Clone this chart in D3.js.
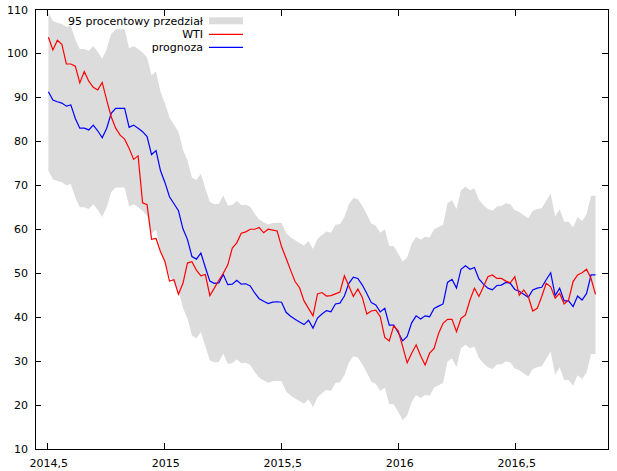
<!DOCTYPE html>
<html>
<head>
<meta charset="utf-8">
<script src="https://cdn.jsdelivr.net/npm/d3@7"></script>
<style>
  body { margin: 0; background: #fff; }
  text { font-family: "DejaVu Sans", Verdana, sans-serif; font-size: 11px; fill: #000; }
</style>
</head>
<body>
<script>
// weekly series, first week at mid 2014
var startYear = 2014.503;
var weekStep = 7 / 365.25;

var wti = [
  103.7, 100.8, 103.0, 102.1, 97.6, 97.6, 97.1, 93.3, 95.9, 93.7,
  92.3, 91.7, 93.4, 89.4, 85.6, 83.0, 81.4, 80.5, 78.4, 75.9,
  76.7, 66.0, 65.6, 57.7, 57.9, 54.9, 52.6, 48.2, 48.5, 45.2,
  47.7, 52.3, 52.6, 50.7, 49.4, 49.7, 44.9, 46.6, 48.4, 50.0,
  51.9, 55.7, 56.9, 59.1, 59.4, 60.0, 60.0, 60.4, 59.2, 60.0,
  59.8, 59.6, 56.0, 53.4, 50.7, 48.1, 46.7, 43.7, 42.0, 40.3,
  45.3, 45.6, 44.8, 44.9, 45.3, 45.7, 49.4, 47.1, 44.7, 46.4,
  44.5, 40.7, 41.4, 41.6, 40.1, 35.4, 34.6, 38.0, 36.9, 33.3,
  29.6, 31.8, 33.7, 31.2, 29.1, 31.8, 32.9, 36.3, 38.6, 39.5,
  39.5, 36.7, 39.7, 40.5, 43.9, 46.6, 44.7, 46.9, 49.2, 49.6,
  48.8, 48.8, 48.2, 47.8, 49.2, 45.0, 46.2, 44.7, 41.4, 42.0,
  44.7, 47.7, 46.9, 44.3, 45.4, 43.0, 43.9, 48.1, 49.6, 50.1,
  50.9, 48.8, 45.2
];

var prognoza = [
  91.3, 89.4, 89.0, 88.7, 88.0, 88.3, 85.2, 83.0, 83.0, 82.6,
  83.7, 82.4, 80.8, 83.0, 86.4, 87.5, 87.5, 87.5, 83.2, 83.7,
  83.0, 82.2, 81.1, 77.0, 77.9, 73.3, 70.6, 67.4, 65.8, 64.2,
  60.1, 57.7, 53.8, 53.2, 54.6, 51.3, 48.2, 47.7, 47.8, 49.7,
  47.4, 47.5, 48.4, 47.5, 47.6, 47.1, 45.5, 44.2, 43.6, 43.1,
  43.4, 43.5, 43.4, 41.1, 40.2, 39.5, 38.9, 38.3, 39.3, 37.5,
  39.8, 40.7, 41.5, 41.2, 43.0, 43.2, 44.8, 47.7, 49.1, 48.8,
  47.3, 45.4, 43.3, 42.8, 41.2, 42.0, 38.2, 38.2, 36.5, 34.6,
  35.6, 38.7, 40.3, 39.6, 40.3, 40.1, 42.0, 42.5, 43.0, 47.9,
  48.6, 46.6, 50.9, 51.7, 50.9, 51.3, 48.7, 47.5, 46.6, 46.2,
  47.2, 47.3, 47.9, 47.7, 46.3, 45.9, 45.2, 44.5, 46.2, 46.6,
  46.8, 48.5, 50.1, 44.9, 46.6, 43.7, 43.7, 42.4, 44.8, 43.9,
  45.4, 49.6, 49.6
];

var upper95 = [
  109.3, 107.4, 107.0, 106.7, 106.0, 106.3, 103.2, 101.0, 101.0, 100.6,
  101.7, 100.4, 98.8, 101.0, 104.4, 105.5, 105.5, 105.5, 101.2, 101.7,
  101.0, 100.2, 99.1, 95.0, 95.9, 91.3, 88.6, 85.4, 83.8, 82.2,
  78.1, 75.7, 71.8, 71.2, 72.6, 69.3, 66.2, 65.7, 65.8, 67.7,
  65.4, 65.5, 66.4, 65.5, 65.6, 65.1, 63.5, 62.2, 61.6, 61.1,
  61.4, 61.5, 61.4, 59.1, 58.2, 57.5, 56.9, 56.3, 57.3, 55.5,
  57.8, 58.7, 59.5, 59.2, 61.0, 61.2, 62.8, 65.7, 67.1, 66.8,
  65.3, 63.4, 61.3, 60.8, 59.2, 60.0, 56.2, 56.2, 54.5, 52.6,
  53.6, 56.7, 58.3, 57.6, 58.3, 58.1, 60.0, 60.5, 61.0, 65.9,
  66.6, 64.6, 68.9, 69.7, 68.9, 69.3, 66.7, 65.5, 64.6, 64.2,
  65.2, 65.3, 65.9, 65.7, 64.3, 63.9, 63.2, 62.5, 64.2, 64.6,
  64.8, 66.5, 68.1, 62.9, 64.6, 61.7, 61.7, 60.4, 62.8, 61.9,
  63.4, 67.6, 67.6
];

var lower95 = [
  73.3, 71.4, 71.0, 70.7, 70.0, 70.3, 67.2, 65.0, 65.0, 64.6,
  65.7, 64.4, 62.8, 65.0, 68.4, 69.5, 69.5, 69.5, 65.2, 65.7,
  65.0, 64.2, 63.1, 59.0, 59.9, 55.3, 52.6, 49.4, 47.8, 46.2,
  42.1, 39.7, 35.8, 35.2, 36.6, 33.3, 30.2, 29.7, 29.8, 31.7,
  29.4, 29.5, 30.4, 29.5, 29.6, 29.1, 27.5, 26.2, 25.6, 25.1,
  25.4, 25.5, 25.4, 23.1, 22.2, 21.5, 20.9, 20.3, 21.3, 19.5,
  21.8, 22.7, 23.5, 23.2, 25.0, 25.2, 26.8, 29.7, 31.1, 30.8,
  29.3, 27.4, 25.3, 24.8, 23.2, 24.0, 20.2, 20.2, 18.5, 16.6,
  17.6, 20.7, 22.3, 21.6, 22.3, 22.1, 24.0, 24.5, 25.0, 29.9,
  30.6, 28.6, 32.9, 33.7, 32.9, 33.3, 30.7, 29.5, 28.6, 28.2,
  29.2, 29.3, 29.9, 29.7, 28.3, 27.9, 27.2, 26.5, 28.2, 28.6,
  28.8, 30.5, 32.1, 26.9, 28.6, 25.7, 25.7, 24.4, 26.8, 25.9,
  27.4, 31.6, 31.6
];

var xTicks = [2014.5, 2015, 2015.5, 2016, 2016.5];
var yTicks = [10, 20, 30, 40, 50, 60, 70, 80, 90, 100, 110];
var legendLabels = ['95 procentowy przedział', 'WTI', 'prognoza'];

var drawChart = function() {
  let width = 617, height = 471;
  let left = 35, right = 608, top = 9.5, bottom = 449;
  let tickLen = 6;

  let svg = d3.select('body')
    .append('svg')
    .attr('width', width)
    .attr('height', height);

  let x = d3.scaleLinear().domain([2014.4457, 2016.8944]).range([left, right]);
  let y = d3.scaleLinear().domain([10, 110]).range([bottom, top]);

  let rows = wti.map((d, i) => ({
    t: startYear + i * weekStep,
    wti: d,
    f: prognoza[i],
    hi: upper95[i],
    lo: lower95[i]
  }));

  // confidence band
  svg.append('path')
    .datum(rows)
    .attr('fill', '#dcdcdc')
    .attr('d', d3.area()
      .x(d => x(d.t))
      .y0(d => y(d.lo))
      .y1(d => y(d.hi)));

  let line = key => d3.line().x(d => x(d.t)).y(d => y(d[key]));

  svg.append('path')
    .datum(rows)
    .attr('fill', 'none')
    .attr('stroke', '#0000ff')
    .attr('stroke-width', 1.2)
    .attr('d', line('f'));

  svg.append('path')
    .datum(rows)
    .attr('fill', 'none')
    .attr('stroke', '#ff0000')
    .attr('stroke-width', 1.2)
    .attr('d', line('wti'));

  // frame + inward ticks on all four sides
  let frame = svg.append('g').attr('stroke', '#000').attr('stroke-width', 1).attr('shape-rendering', 'crispEdges');
  frame.append('rect')
    .attr('x', left).attr('y', top)
    .attr('width', right - left).attr('height', bottom - top)
    .attr('fill', 'none');

  xTicks.forEach(t => {
    frame.append('line').attr('x1', x(t)).attr('x2', x(t)).attr('y1', bottom).attr('y2', bottom - tickLen);
    frame.append('line').attr('x1', x(t)).attr('x2', x(t)).attr('y1', top).attr('y2', top + tickLen);
  });
  yTicks.forEach(v => {
    frame.append('line').attr('x1', left).attr('x2', left + tickLen).attr('y1', y(v)).attr('y2', y(v));
    frame.append('line').attr('x1', right).attr('x2', right - tickLen).attr('y1', y(v)).attr('y2', y(v));
  });

  svg.selectAll('.xlab')
    .data(xTicks)
    .enter()
    .append('text')
    .attr('x', d => x(d) + 1)
    .attr('y', 467)
    .attr('text-anchor', 'middle')
    .text(d => String(d).replace('.', ','));

  svg.selectAll('.ylab')
    .data(yTicks)
    .enter()
    .append('text')
    .attr('x', 28)
    .attr('y', d => y(d) + 4)
    .attr('text-anchor', 'end')
    .text(d => d);

  // legend
  let legY = [20.8, 34.3, 47.3];
  let legend = svg.append('g');
  legendLabels.forEach((label, i) => {
    legend.append('text')
      .attr('x', 203)
      .attr('y', legY[i] + 4)
      .attr('text-anchor', 'end')
      .text(label);
  });
  legend.append('rect')
    .attr('x', 209).attr('y', legY[0] - 3.5)
    .attr('width', 34).attr('height', 7)
    .attr('fill', '#dcdcdc');
  legend.append('line')
    .attr('x1', 209).attr('x2', 243).attr('y1', legY[1]).attr('y2', legY[1])
    .attr('stroke', '#ff0000').attr('stroke-width', 1.2);
  legend.append('line')
    .attr('x1', 209).attr('x2', 243).attr('y1', legY[2]).attr('y2', legY[2])
    .attr('stroke', '#0000ff').attr('stroke-width', 1.2);
}

drawChart();
</script>
</body>
</html>
